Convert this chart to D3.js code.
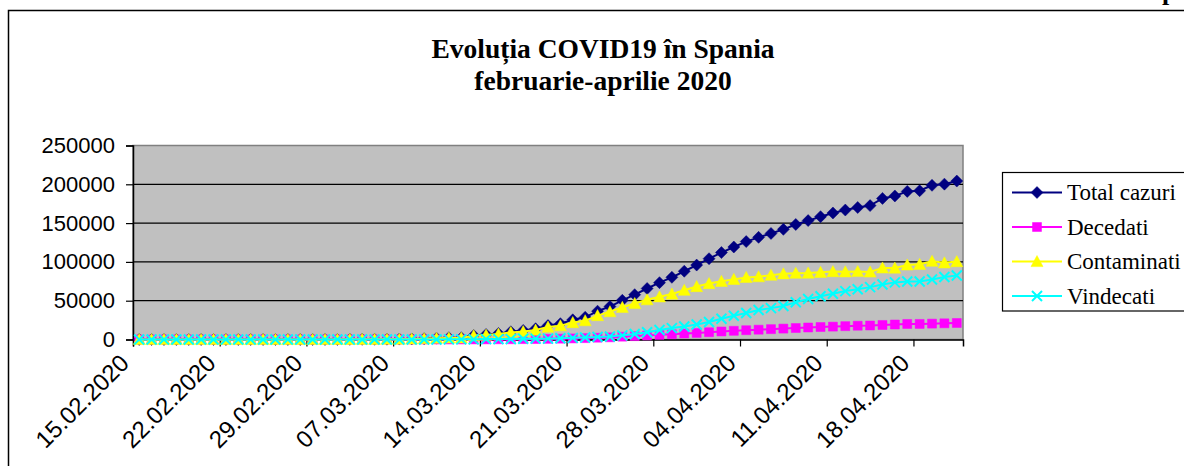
<!DOCTYPE html>
<html>
<head>
<meta charset="utf-8">
<script src="https://cdn.jsdelivr.net/npm/d3@7"></script>
<style>
  body { margin: 0; background: #fff; }
  svg { display: block; }
</style>
</head>
<body>
<div id="chart"></div>
<script>
// date categories: one point per day, 15.02.2020 .. 21.04.2020
var startDay = "15.02.2020", endDay = "22.04.2020";

var tickLabels = ["15.02.2020", "22.02.2020", "29.02.2020", "07.03.2020", "14.03.2020",
    "21.03.2020", "28.03.2020", "04.04.2020", "11.04.2020", "18.04.2020"];
var yTicks = [0, 50000, 100000, 150000, 200000, 250000];

var totalCazuri = [2, 2, 2, 2, 2, 2, 2, 2, 2, 2,
    6, 13, 15, 32, 45, 84, 120, 165, 222, 259,
    400, 500, 673, 1073, 1695, 2277, 2277, 5232, 6391, 7798,
    9942, 11748, 13910, 17963, 20410, 25374, 28603, 36500, 42500, 50500,
    57786, 65719, 73235, 80110, 87956, 95923, 104118, 112065, 119199, 126168,
    131646, 136675, 141942, 148220, 153222, 158273, 163027, 166831, 170099, 172541,
    181800, 184948, 190839, 191726, 198674, 200210, 204178];

var decedati = [0, 0, 0, 0, 0, 0, 0, 0, 0, 0,
    0, 0, 0, 0, 0, 0, 0, 1, 2, 3,
    5, 10, 17, 28, 35, 54, 55, 133, 195, 289,
    342, 533, 623, 830, 1043, 1375, 1772, 2311, 2808, 3647,
    4365, 5138, 5982, 6803, 7716, 8464, 9387, 10348, 11198, 11947,
    12641, 13341, 14045, 14792, 15447, 16081, 16606, 17209, 17756, 18056,
    18708, 19315, 20002, 20043, 20453, 20852, 21282];

var contaminati = [0, 0, 0, 0, 0, 0, 0, 0, 0, 0,
    4, 11, 13, 30, 43, 82, 118, 162, 218, 254,
    393, 460, 626, 1013, 1628, 2040, 2039, 4906, 5679, 6992,
    9070, 10187, 12206, 16026, 17779, 21874, 24256, 30834, 35898, 41486,
    46406, 51224, 54968, 58598, 63460, 68200, 72084, 74974, 77488, 80002,
    80925, 82897, 84689, 85407, 85610, 86524, 87546, 87231, 87616, 86981,
    92239, 92033, 96040, 96886, 100864, 98771, 100382];

var vindecati = [2, 2, 2, 2, 2, 2, 2, 2, 2, 2,
    2, 2, 2, 2, 2, 2, 2, 2, 2, 2,
    2, 30, 30, 32, 32, 183, 183, 193, 517, 517,
    530, 1028, 1081, 1107, 1588, 2125, 2575, 3355, 3794, 5367,
    7015, 9357, 12285, 14709, 16780, 19259, 22647, 26743, 30513, 34219,
    38080, 40437, 43208, 48021, 52165, 55668, 58875, 62391, 64727, 67504,
    70853, 73600, 74797, 74797, 77357, 80587, 82514];

var seriesNames = ["Total cazuri", "Decedati", "Contaminati", "Vindecati"];
var seriesColors = ["#000080", "#FF00FF", "#FFFF00", "#00FFFF"];

var W = 1184, H = 466;
var plot = { left: 133, top: 145.5, right: 963, bottom: 339.5 };

var parseDay = d3.timeParse("%d.%m.%Y");
var days = d3.timeDay.range(parseDay(startDay), parseDay(endDay));

var x = d3.scaleTime()
    .domain([parseDay(startDay), parseDay(endDay)])
    .range([plot.left, plot.right]);
var y = d3.scaleLinear()
    .domain([0, 250000])
    .range([plot.bottom, plot.top]);

// position of a point: middle of its day
var xMid = function(i) {
    return x(d3.timeHour.offset(days[i], 12));
};

// marker shapes as custom d3 symbols
var symbolCrossX = {
    draw: function(context, size) {
        var r = Math.sqrt(size) / 2;
        context.moveTo(-r, -r);
        context.lineTo(r, r);
        context.moveTo(r, -r);
        context.lineTo(-r, r);
    }
};
var diamond = {
    draw: function(context, size) {
        var r = Math.sqrt(size) / 2;
        context.moveTo(0, -r);
        context.lineTo(r, 0);
        context.lineTo(0, r);
        context.lineTo(-r, 0);
        context.closePath();
    }
};
var triangle = {
    draw: function(context, size) {
        var r = Math.sqrt(size) / 2;
        context.moveTo(0, -r);
        context.lineTo(r, r * 0.85);
        context.lineTo(-r, r * 0.85);
        context.closePath();
    }
};
var square = {
    draw: function(context, size) {
        var r = Math.sqrt(size) / 2;
        context.rect(-r, -r, 2 * r, 2 * r);
    }
};

var series = [
    { name: seriesNames[0], values: totalCazuri, color: seriesColors[0], sym: d3.symbol(diamond, 12 * 12), fill: true },
    { name: seriesNames[1], values: decedati, color: seriesColors[1], sym: d3.symbol(square, 9 * 9), fill: true },
    { name: seriesNames[2], values: contaminati, color: seriesColors[2], sym: d3.symbol(triangle, 12 * 12), fill: true },
    { name: seriesNames[3], values: vindecati, color: seriesColors[3], sym: d3.symbol(symbolCrossX, 10 * 10), fill: false }
];

var svg = d3.select("#chart").append("svg")
    .attr("width", W)
    .attr("height", H);

// chart area border (runs off the right and bottom)
svg.append("rect")
    .attr("x", 8.5).attr("y", 10.5)
    .attr("width", W + 20).attr("height", H + 20)
    .attr("fill", "#fff")
    .attr("stroke", "#000")
    .attr("stroke-width", 1.5);

// fragment of text above the chart, cut by the page edge
svg.append("text")
    .attr("x", 1162).attr("y", 0)
    .attr("font-family", "Liberation Serif")
    .attr("font-weight", "bold")
    .attr("font-size", 26)
    .text("p");

// title
var title = svg.append("text")
    .attr("text-anchor", "middle")
    .attr("font-family", "Liberation Serif")
    .attr("font-weight", "bold")
    .attr("font-size", 27.5);
title.append("tspan").attr("x", 603).attr("y", 58).text("Evoluția COVID19 în Spania");
title.append("tspan").attr("x", 603).attr("y", 90).text("februarie-aprilie 2020");

// plot area
svg.append("rect")
    .attr("x", plot.left).attr("y", plot.top)
    .attr("width", plot.right - plot.left)
    .attr("height", plot.bottom - plot.top)
    .attr("fill", "#C0C0C0")
    .attr("stroke", "#808080")
    .attr("stroke-width", 1.5);

// gridlines
svg.append("g").selectAll("line")
    .data(yTicks.slice(1))
    .enter().append("line")
    .attr("x1", plot.left).attr("x2", plot.right)
    .attr("y1", function(d) { return y(d); })
    .attr("y2", function(d) { return y(d); })
    .attr("stroke", function(d) { return d == 250000 ? "#808080" : "#000"; })
    .attr("stroke-width", 1.2);

// y axis
var yAxis = svg.append("g")
    .attr("transform", "translate(" + plot.left + ",0)")
    .call(d3.axisLeft(y).tickValues(yTicks).tickSize(7).tickPadding(11).tickFormat(d3.format("d")));
yAxis.select(".domain").attr("stroke", "#000").attr("stroke-width", 1.5);
yAxis.selectAll(".tick line").attr("stroke", "#000").attr("stroke-width", 1.2);
yAxis.selectAll("text")
    .attr("font-family", "Liberation Sans")
    .attr("font-size", 22)
    .attr("fill", "#000");

// x axis
var xTickDates = tickLabels.map(parseDay);
var xAxis = svg.append("g")
    .attr("transform", "translate(0," + plot.bottom + ")")
    .call(d3.axisBottom(x).tickValues(xTickDates).tickSize(7).tickFormat(d3.timeFormat("%d.%m.%Y")));
xAxis.select(".domain").attr("stroke", "#000").attr("stroke-width", 1.5);
xAxis.selectAll(".tick line").attr("stroke", "#000").attr("stroke-width", 1.2);
xAxis.selectAll("text")
    .attr("font-family", "Liberation Sans")
    .attr("font-size", 24)
    .attr("fill", "#000")
    .attr("text-anchor", "end")
    .attr("dy", 0)
    .attr("y", 0)
    .attr("transform", "translate(-3,25) rotate(-45)");

// series
var line = function(vals) {
    return d3.line()
        .x(function(d, i) { return xMid(i); })
        .y(function(d) { return y(d); })(vals);
};

series.forEach(function(s) {
    var g = svg.append("g");
    g.append("path")
        .attr("d", line(s.values))
        .attr("fill", "none")
        .attr("stroke", s.color)
        .attr("stroke-width", 2);
    g.selectAll("path.mk")
        .data(s.values)
        .enter().append("path")
        .attr("class", "mk")
        .attr("transform", function(d, i) { return "translate(" + xMid(i) + "," + y(d) + ")"; })
        .attr("d", s.sym)
        .attr("fill", s.fill ? s.color : "none")
        .attr("stroke", s.color)
        .attr("stroke-width", s.fill ? 0.5 : 2);
});

// legend
var legend = svg.append("g");
legend.append("rect")
    .attr("x", 1002.5).attr("y", 172.5)
    .attr("width", 300).attr("height", 138.5)
    .attr("fill", "#fff")
    .attr("stroke", "#000")
    .attr("stroke-width", 1.2);

var item = legend.selectAll("g.item")
    .data(series)
    .enter().append("g")
    .attr("class", "item")
    .attr("transform", function(d, i) { return "translate(0," + (192.5 + i * 34.5) + ")"; });
item.append("line")
    .attr("x1", 1012).attr("x2", 1062)
    .attr("y1", 0).attr("y2", 0)
    .attr("stroke", function(d) { return d.color; })
    .attr("stroke-width", 2);
item.append("path")
    .attr("transform", "translate(1037,0)")
    .attr("d", function(d) { return d.sym(); })
    .attr("fill", function(d) { return d.fill ? d.color : "none"; })
    .attr("stroke", function(d) { return d.color; })
    .attr("stroke-width", function(d) { return d.fill ? 0.5 : 2; });
item.append("text")
    .attr("x", 1067).attr("y", 7.5)
    .attr("font-family", "Liberation Serif")
    .attr("font-size", 23)
    .attr("fill", "#000")
    .text(function(d) { return d.name; });
</script>
</body>
</html>
